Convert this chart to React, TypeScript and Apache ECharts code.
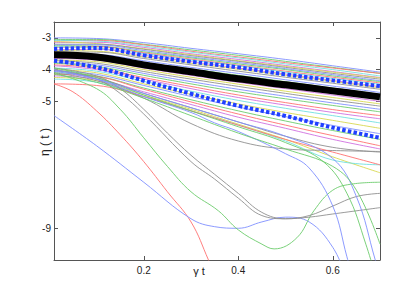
import React, { useEffect, useRef } from 'react';
import * as echarts from 'echarts';

const xTicks = [0.2, 0.4, 0.6];
const yTicks = [-9, -5, -4, -3];
const bandX = [0.01, 0.1, 0.2, 0.3, 0.4, 0.5, 0.6, 0.7];

const meanY = [-3.53, -3.6, -3.85, -4.07, -4.29, -4.48, -4.67, -4.86];
const upperCI = [-3.35, -3.32, -3.55, -3.75, -3.93, -4.15, -4.34, -4.52];
const lowerCI = [-3.72, -3.93, -4.35, -4.76, -5.14, -5.46, -5.83, -6.15];

const bandLines = [
  [-3.0, -3.02, -3.15, -3.33, -3.5, -3.68, -3.88, -4.08],
  [-3.05, -3.05, -3.2, -3.38, -3.55, -3.74, -3.93, -4.12],
  [-3.1, -3.08, -3.22, -3.42, -3.6, -3.78, -3.95, -4.12],
  [-3.08, -3.1, -3.26, -3.45, -3.63, -3.82, -4.0, -4.2],
  [-3.15, -3.14, -3.3, -3.5, -3.68, -3.87, -4.06, -4.25],
  [-3.12, -3.18, -3.34, -3.53, -3.72, -3.9, -4.08, -4.26],
  [-3.2, -3.2, -3.36, -3.56, -3.74, -3.93, -4.12, -4.3],
  [-3.22, -3.22, -3.4, -3.6, -3.78, -3.97, -4.16, -4.35],
  [-3.25, -3.26, -3.44, -3.63, -3.82, -4.0, -4.2, -4.38],
  [-3.3, -3.28, -3.47, -3.67, -3.86, -4.05, -4.24, -4.42],
  [-3.28, -3.32, -3.5, -3.7, -3.88, -4.08, -4.28, -4.46],
  [-3.38, -3.36, -3.55, -3.75, -3.95, -4.14, -4.34, -4.54],
  [-3.4, -3.42, -3.6, -3.8, -3.99, -4.18, -4.37, -4.58],
  [-3.45, -3.45, -3.65, -3.85, -4.05, -4.24, -4.43, -4.62],
  [-3.5, -3.52, -3.72, -3.93, -4.12, -4.32, -4.52, -4.72],
  [-3.55, -3.56, -3.78, -3.98, -4.18, -4.38, -4.58, -4.78],
  [-3.6, -3.62, -3.84, -4.05, -4.25, -4.45, -4.65, -4.85],
  [-3.62, -3.67, -3.9, -4.12, -4.33, -4.53, -4.72, -4.92],
  [-3.65, -3.7, -3.95, -4.18, -4.4, -4.6, -4.8, -5.0],
  [-3.7, -3.75, -4.0, -4.24, -4.46, -4.68, -4.88, -5.08],
  [-3.72, -3.8, -4.06, -4.3, -4.53, -4.75, -4.96, -5.15],
  [-3.78, -3.85, -4.12, -4.38, -4.62, -4.84, -5.05, -5.25],
  [-3.8, -3.9, -4.18, -4.45, -4.7, -4.92, -5.13, -5.33],
  [-3.85, -3.95, -4.25, -4.53, -4.8, -5.04, -5.26, -5.45],
  [-3.88, -4.0, -4.3, -4.6, -4.88, -5.12, -5.35, -5.55],
  [-3.95, -4.05, -4.37, -4.68, -4.97, -5.22, -5.45, -5.68],
  [-4.0, -4.1, -4.45, -4.78, -5.08, -5.35, -5.6, -5.85],
  [-4.05, -4.15, -4.5, -4.85, -5.18, -5.48, -5.76, -6.02],
  [-4.1, -4.2, -4.58, -4.95, -5.3, -5.62, -5.92, -6.2],
  [-4.15, -4.22, -4.62, -5.02, -5.4, -5.75, -6.08, -6.4],
  [-4.2, -4.3, -4.7, -5.1, -5.5, -5.85, -6.2, -6.5],
  [-4.02, -4.25, -4.75, -5.2, -5.65, -6.1, -6.45, -6.6],
  [-4.25, -4.35, -4.8, -5.25, -5.72, -6.2, -6.75, -7.25],
  [-4.3, -4.4, -4.85, -5.3, -5.75, -6.25, -6.85, -7.0],
  [-4.1, -4.35, -4.9, -5.7, -6.25, -6.5, -6.55, -6.58],
  [-4.45, -4.5, -4.85, -5.3, -5.75, -6.2, -6.6, -7.0],
];

const bandColors = [
  '#7f8fff', '#6ccc6c', '#ff7070', '#70e0e0', '#d070e0', '#d8d850', '#909090',
  '#7f8fff', '#6ccc6c', '#ff7070', '#70e0e0', '#d070e0', '#d8d850', '#909090',
  '#7f8fff', '#6ccc6c', '#ff7070', '#70e0e0', '#d070e0', '#d8d850', '#909090',
  '#7f8fff', '#6ccc6c', '#ff7070', '#d070e0', '#70e0e0', '#d8d850', '#7f8fff',
  '#6ccc6c', '#ff7070', '#d070e0', '#909090', '#d8d850', '#70e0e0', '#909090',
  '#ff7070',
];

const redSteep = [[0.01, -4.45], [0.05, -4.7], [0.1, -5.3], [0.15, -6.05], [0.2, -6.9], [0.25, -7.85], [0.3, -8.8], [0.337, -10.0], [0.36, -10.8]];
const blueLow = [[0.01, -5.45], [0.1, -6.4], [0.2, -7.55], [0.3, -8.7], [0.35, -8.95], [0.4, -9.0], [0.45, -8.8], [0.5, -8.65], [0.55, -8.8], [0.6, -9.6], [0.63, -10.6]];
const greenLow = [[0.01, -4.1], [0.1, -4.6], [0.15, -5.25], [0.2, -6.15], [0.25, -7.05], [0.3, -7.85], [0.358, -8.45], [0.4, -9.05], [0.45, -9.5], [0.476, -9.65], [0.524, -9.3], [0.56, -8.45], [0.6, -7.8], [0.644, -7.6], [0.7, -7.55]];
const grayLow1 = [[0.01, -3.95], [0.1, -4.2], [0.15, -4.6], [0.2, -5.25], [0.25, -6.0], [0.3, -6.7], [0.35, -7.3], [0.4, -7.9], [0.45, -8.5], [0.5, -8.7], [0.55, -8.6], [0.6, -8.3], [0.65, -8.0], [0.7, -7.9]];
const grayLow2 = [[0.01, -4.0], [0.1, -4.3], [0.15, -4.75], [0.2, -5.4], [0.3, -6.9], [0.35, -7.45], [0.4, -8.05], [0.45, -8.6], [0.5, -8.7], [0.55, -8.65], [0.6, -8.55], [0.7, -8.35]];
const blueDive1 = [[0.01, -4.0], [0.1, -4.3], [0.2, -4.85], [0.3, -5.35], [0.35, -5.68], [0.4, -5.95], [0.5, -6.65], [0.55, -7.1], [0.6, -8.3], [0.63, -9.9], [0.65, -11.0]];
const greenDive1 = [[0.01, -3.95], [0.1, -4.25], [0.2, -4.8], [0.3, -5.3], [0.4, -5.8], [0.5, -6.3], [0.58, -6.9], [0.63, -7.9], [0.67, -9.5], [0.7, -11.0]];
const blueDive2 = [[0.01, -4.05], [0.1, -4.3], [0.2, -4.75], [0.3, -5.2], [0.4, -5.65], [0.5, -6.1], [0.6, -6.8], [0.65, -8.0], [0.69, -10.0], [0.71, -11.0]];
const greenDive2 = [[0.01, -4.15], [0.1, -4.4], [0.2, -4.9], [0.3, -5.45], [0.4, -6.0], [0.5, -6.5], [0.6, -7.05], [0.65, -7.8], [0.7, -9.5]];

const outlierLines = [redSteep, blueLow, greenLow, grayLow1, grayLow2, blueDive1, greenDive1, blueDive2, greenDive2];
const outlierColors = ['#ff7070', '#7f8fff', '#6ccc6c', '#909090', '#909090', '#7f8fff', '#6ccc6c', '#7f8fff', '#6ccc6c'];

const AXIS_COLOR = '#555';
const FONT = 'Liberation Sans, Arial, sans-serif';

export default function App() {
  const ref = useRef<HTMLDivElement>(null);
  useEffect(() => {
    if (!ref.current) return;
    const chart = echarts.init(ref.current, null, { renderer: 'svg' });
    const thin = (data: number[][], color: string) => ({
      type: 'line',
      data,
      smooth: 0.4,
      symbol: 'none',
      silent: true,
      clip: true,
      z: 2,
      lineStyle: { width: 0.9, color },
    });
    const series: any[] = [];
    bandLines.forEach((ys, i) => series.push(thin(ys.map((y, j) => [bandX[j], y]), bandColors[i])));
    outlierLines.forEach((pts, i) => series.push(thin(pts, outlierColors[i])));
    series.push({
      type: 'line', data: meanY.map((y, j) => [bandX[j], y]), smooth: 0.4, symbol: 'none', z: 5, silent: true,
      lineStyle: { width: 7, color: '#000' },
    });
    [upperCI, lowerCI].forEach((arr) => series.push({
      type: 'line', data: arr.map((y, j) => [bandX[j], y]), smooth: 0.4, symbol: 'none', z: 6, silent: true,
      lineStyle: { width: 4, color: '#2040ff', type: [3.4, 2.2], cap: 'butt' },
    }));

    const xBase = (pos: 'bottom' | 'top', labels: boolean) => ({
      type: 'value', min: 0.01, max: 0.7, position: pos,
      axisLine: { show: true, onZero: false, lineStyle: { color: AXIS_COLOR, width: 1 } },
      axisTick: { show: true, inside: true, length: 4, customValues: xTicks, lineStyle: { color: AXIS_COLOR } },
      axisLabel: { show: labels, customValues: xTicks, color: '#222', fontSize: 10, fontFamily: FONT, margin: 5 },
      splitLine: { show: false },
    });
    const yBase = (pos: 'left' | 'right', labels: boolean) => ({
      type: 'value', min: -10, max: -2.5, position: pos,
      axisLine: { show: true, onZero: false, lineStyle: { color: AXIS_COLOR, width: 1 } },
      axisTick: { show: true, inside: true, length: 4, customValues: yTicks, lineStyle: { color: AXIS_COLOR } },
      axisLabel: { show: labels, customValues: yTicks, color: '#222', fontSize: 10, fontFamily: FONT, margin: 3 },
      splitLine: { show: false },
    });

    chart.setOption({
      animation: false,
      backgroundColor: '#fff',
      grid: { left: 54, right: 40, top: 22, bottom: 33 },
      xAxis: [xBase('bottom', true), xBase('top', false)],
      yAxis: [yBase('left', true), yBase('right', false)],
      series,
      graphic: [
        {
          type: 'text', x: 45, y: 142, rotation: Math.PI / 2,
          style: { text: 'η ( t )', fontSize: 12, fontFamily: FONT, fill: '#222', align: 'center', verticalAlign: 'middle' },
        },
        {
          type: 'text', x: 199, y: 271,
          style: { text: 'γ t', fontSize: 11, fontFamily: FONT, fill: '#222', align: 'center', verticalAlign: 'middle' },
        },
      ],
    });
    return () => chart.dispose();
  }, []);
  return <div ref={ref} style={{ position: 'fixed', left: 0, top: 0, width: 420, height: 293 }} />;
}
